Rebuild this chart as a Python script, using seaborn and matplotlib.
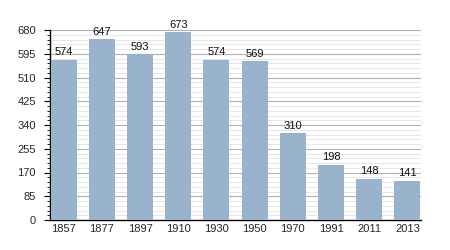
import matplotlib
matplotlib.use("Agg")
import matplotlib.pyplot as plt
import seaborn as sns
import pandas as pd
from matplotlib.ticker import MultipleLocator

years = ["1857", "1877", "1897", "1910", "1930", "1950", "1970", "1991", "2011", "2013"]
population = [574, 647, 593, 673, 574, 569, 310, 198, 148, 141]
yticks = [0, 85, 170, 255, 340, 425, 510, 595, 680]

df = pd.DataFrame({"year": years, "pop": population})

sns.set_style("white")
plt.rcParams['font.family'] = ['Liberation Sans', 'DejaVu Sans']

fig = plt.figure(figsize=(4.5, 2.5), dpi=100)
ax = fig.add_axes([0.111, 0.12, 0.825, 0.76])

sns.barplot(data=df, x="year", y="pop", color="#9ab3cc", width=0.68,
            saturation=1, ax=ax, zorder=3, edgecolor="none", linewidth=0)

ax.set_ylim(0, 680)
ax.set_yticks(yticks)
ax.yaxis.set_minor_locator(MultipleLocator(17))
ax.grid(axis="y", which="major", color="#b0b0b0", linewidth=0.8, zorder=0)
ax.grid(axis="y", which="minor", color="#e2e2e2", linewidth=0.6, zorder=0)
ax.set_axisbelow(True)

for i, v in enumerate(population):
    ax.text(i, v + 8, str(v), ha="center", va="bottom", fontsize=8, color="#111111")

for s in ["top", "right"]:
    ax.spines[s].set_visible(False)
for s in ["left", "bottom"]:
    ax.spines[s].set_color("black")
    ax.spines[s].set_linewidth(1)

ax.tick_params(axis="y", which="major", length=4, width=0.8, color="black", labelsize=8, left=True, pad=6)
ax.tick_params(axis="y", which="minor", length=2, width=0.6, color="black", left=True)
ax.tick_params(axis="x", length=0, labelsize=8, pad=3)
ax.set_xlabel("")
ax.set_ylabel("")
ax.set_xlim(-0.36, 9.36)

fig.savefig("out.png", dpi=100)
